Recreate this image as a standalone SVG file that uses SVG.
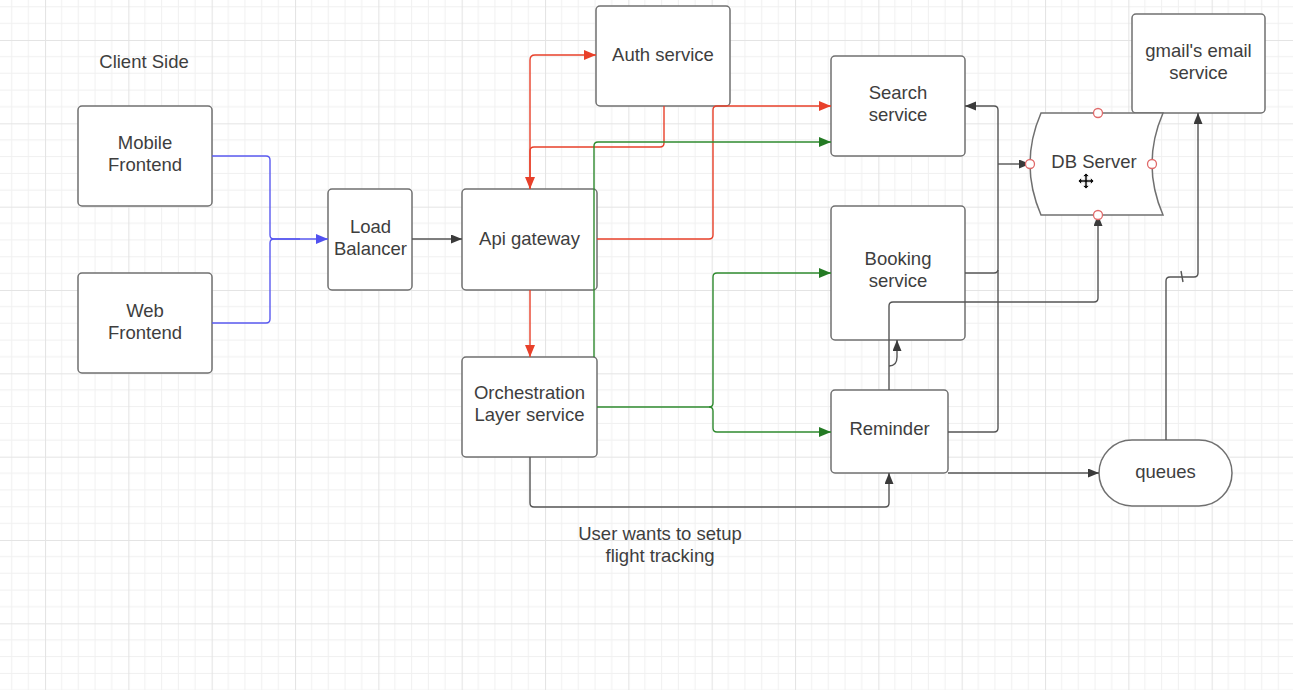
<svg xmlns="http://www.w3.org/2000/svg" width="1293" height="690" viewBox="0 0 1293 690">
<defs>
<pattern id="grid" patternUnits="userSpaceOnUse" x="45" y="40" width="83.333" height="83.333">
<path d="M16.667,0V83.333M33.333,0V83.333M50,0V83.333M66.667,0V83.333M0,16.667H83.333M0,33.333H83.333M0,50H83.333M0,66.667H83.333" stroke="#f0f0f0" stroke-width="1" fill="none"/>
<path d="M0.5,0V83.333M0,0.5H83.333" stroke="#e4e4e4" stroke-width="1.2" fill="none"/>
</pattern>
<marker id="aK" markerUnits="userSpaceOnUse" markerWidth="12" markerHeight="10" refX="11" refY="4.5" orient="auto"><path d="M0,0L11,4.5L0,9z" fill="#3a3a3a"/></marker>
<marker id="aR" markerUnits="userSpaceOnUse" markerWidth="13" markerHeight="11" refX="12" refY="5" orient="auto"><path d="M0,0L12,5L0,10z" fill="#e8402a"/></marker>
<marker id="aG" markerUnits="userSpaceOnUse" markerWidth="13" markerHeight="11" refX="12" refY="5" orient="auto"><path d="M0,0L12,5L0,10z" fill="#237a23"/></marker>
<marker id="aB" markerUnits="userSpaceOnUse" markerWidth="13" markerHeight="11" refX="12" refY="5" orient="auto"><path d="M0,0L12,5L0,10z" fill="#5050f0"/></marker>
</defs>
<style>
.box{fill:#ffffff;stroke:#707070;stroke-width:1.5}
.t{font-family:"Liberation Sans",Arial,sans-serif;font-size:18.5px;fill:#3e3e3e;text-anchor:middle}
.k{fill:none;stroke:#555555;stroke-width:1.4}
.r{fill:none;stroke:#e8402a;stroke-width:1.4}
.g{fill:none;stroke:#2f8a2f;stroke-width:1.4}
.b{fill:none;stroke:#5a5af0;stroke-width:1.4}
.pt{fill:#ffffff;stroke:#e06a6a;stroke-width:1.3}
</style>
<rect x="0" y="0" width="1293" height="690" fill="#ffffff"/>
<rect x="0" y="0" width="1293" height="690" fill="url(#grid)"/>

<text class="t" x="144" y="67.5">Client Side</text>

<g id="mobile-frontend"><rect class="box" x="78" y="106" width="134" height="100" rx="4"/><text class="t" x="145" y="149">Mobile</text><text class="t" x="145" y="171">Frontend</text></g>
<g id="web-frontend"><rect class="box" x="78" y="273" width="134" height="100" rx="4"/><text class="t" x="145" y="316.5">Web</text><text class="t" x="145" y="338.5">Frontend</text></g>
<g id="load-balancer"><rect class="box" x="328" y="189" width="84" height="101" rx="4"/><text class="t" x="370.5" y="233">Load</text><text class="t" x="370.5" y="255">Balancer</text></g>
<g id="api-gateway"><rect class="box" x="462" y="189" width="135" height="101" rx="4"/><text class="t" x="529.5" y="245">Api gateway</text></g>
<g id="auth-service"><rect class="box" x="596" y="6" width="134" height="100" rx="4"/><text class="t" x="663" y="61">Auth service</text></g>
<g id="search-service"><rect class="box" x="831" y="56" width="134" height="100" rx="4"/><text class="t" x="898" y="98.5">Search</text><text class="t" x="898" y="120.5">service</text></g>
<g id="booking-service"><rect class="box" x="831" y="206" width="134" height="134" rx="4"/><text class="t" x="898" y="265">Booking</text><text class="t" x="898" y="287">service</text></g>
<g id="orchestration"><rect class="box" x="462" y="357" width="135" height="100" rx="4"/><text class="t" x="529.5" y="399">Orchestration</text><text class="t" x="529.5" y="421">Layer service</text></g>
<g id="reminder"><rect class="box" x="831" y="390" width="117" height="83" rx="4"/><text class="t" x="889.5" y="435">Reminder</text></g>
<g id="gmail"><rect class="box" x="1132" y="14" width="133" height="99" rx="4"/><text class="t" x="1198.5" y="57">gmail's email</text><text class="t" x="1198.5" y="79">service</text></g>
<g id="queues"><rect class="box" x="1099" y="440" width="133" height="66" rx="33"/><text class="t" x="1165.5" y="478">queues</text></g>
<g id="db-server">
<path class="box" d="M1041,113H1163Q1141,164 1163,215H1041Q1019,164 1041,113Z"/>
<text class="t" x="1094" y="168">DB Server</text>
</g>
<text class="t" x="660" y="540">User wants to setup</text>
<text class="t" x="660" y="562">flight tracking</text>

<g id="connectors">
<path class="b" d="M212,156H266Q270,156 270,160V235Q270,239 274,239H328" marker-end="url(#aB)"/>
<path class="b" d="M212,323H266Q270,323 270,319V243Q270,239 274,239H300"/>
<path class="k" d="M412,239H462" marker-end="url(#aK)"/>
<path class="r" d="M530,189V60Q530,55 535,55H596" marker-end="url(#aR)"/>
<path class="r" d="M664,106V143Q664,147 660,147H534Q530,147 530,151V189" marker-end="url(#aR)"/>
<path class="r" d="M597,239H709Q713,239 713,235V110Q713,106 717,106H831" marker-end="url(#aR)"/>
<path class="r" d="M530,290V357" marker-end="url(#aR)"/>
<path class="g" d="M594,357V146Q594,142 598,142H831" marker-end="url(#aG)"/>
<path class="g" d="M597,407H709Q713,407 713,403V277Q713,273 717,273H831" marker-end="url(#aG)"/>
<path class="g" d="M709,407Q713,407 713,411V428Q713,432 717,432H831" marker-end="url(#aG)"/>
<path class="k" d="M530,457V503Q530,507 534,507H885Q889,507 889,503V473" marker-end="url(#aK)"/>
<path class="k" d="M965,273H994Q998,273 998,269V110Q998,106 994,106H965" marker-end="url(#aK)"/>
<path class="k" d="M998,164H1030" marker-end="url(#aK)"/>
<path class="k" d="M948,432H994Q998,432 998,428V270"/>
<path class="k" d="M889,390V306Q889,302 893,302H1094Q1098,302 1098,298V215" marker-end="url(#aK)"/>
<path class="k" d="M889,366Q897,366 897,357V340" marker-end="url(#aK)"/>
<path class="k" d="M948,473H1099" marker-end="url(#aK)"/>
<path class="k" d="M1166,440V281Q1166,277 1170,277H1194Q1198,277 1198,273V113" marker-end="url(#aK)"/>
<path class="k" d="M1181,271L1183,282"/>
</g>

<g id="db-points">
<circle class="pt" cx="1098" cy="113" r="4.5"/><circle class="pt" cx="1030" cy="164" r="4.5"/><circle class="pt" cx="1152" cy="164" r="4.5"/><circle class="pt" cx="1098" cy="215" r="4.5"/>
<path d="M1086,173L1089.5,176.5H1087.2V179.8H1090.5V177.5L1094,181L1090.5,184.5V182.2H1087.2V185.5H1089.5L1086,189L1082.5,185.5H1084.8V182.2H1081.5V184.5L1078,181L1081.5,177.5V179.8H1084.8V176.5H1082.5Z" fill="#111111" stroke="#ffffff" stroke-width="0.8"/>
</g>
</svg>
